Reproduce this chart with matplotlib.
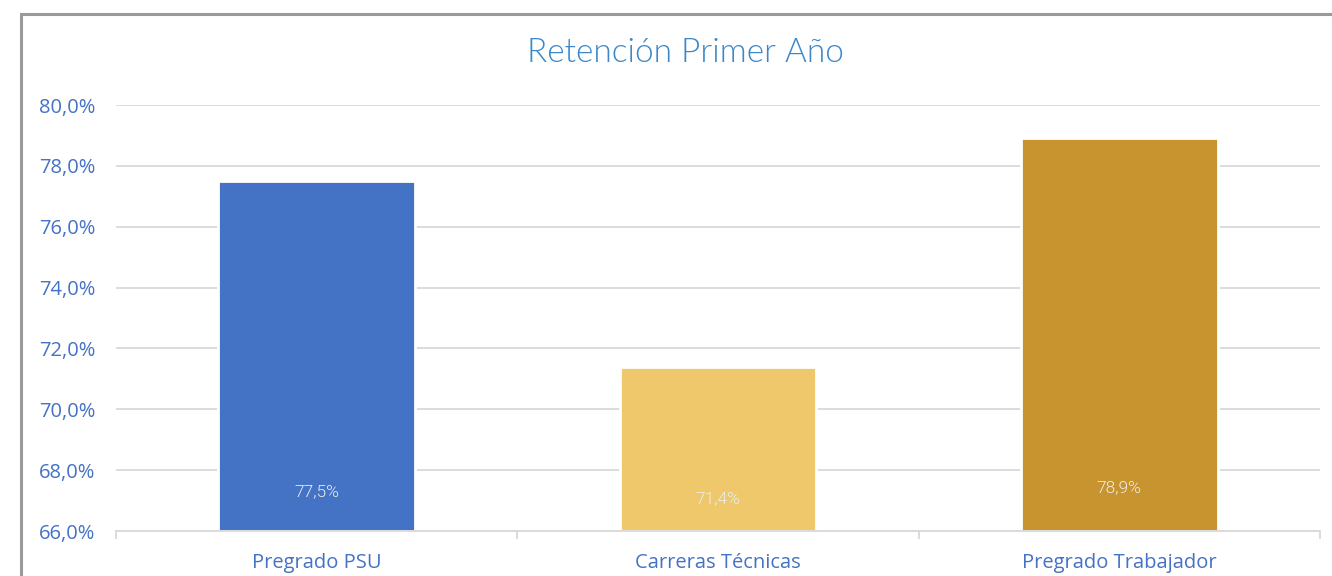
import matplotlib
matplotlib.use("Agg")
import matplotlib.pyplot as plt
from matplotlib.patches import Rectangle
from matplotlib.ticker import FuncFormatter, FixedLocator
from matplotlib.transforms import offset_copy

categories = ["Pregrado PSU", "Carreras Técnicas", "Pregrado Trabajador"]
values = [77.5, 71.4, 78.9]
title = "Retención Primer Año"
y_ticks = [66, 68, 70, 72, 74, 76, 78, 80]

bar_colors = ["#4472C4", "#EEC86B", "#C7942F"]
label_offsets_px = [39, 32, 43]  # label height above bar base, in pixels

fig = plt.figure(figsize=(13.32, 5.76), dpi=100)
fig.patch.set_facecolor("white")

# chart frame (cut off at right and bottom in the reference)
fig.patches.append(Rectangle((20.5 / 1332, -0.1), 1.2, 1 - 13.5 / 576 + 0.1,
                             transform=fig.transFigure, fill=False,
                             edgecolor="#9A9A9A", linewidth=2.2))

ax = fig.add_axes([116 / 1332, 1 - 531 / 576, (1320 - 116) / 1332, (531 - 105) / 576])
x = list(range(len(categories)))
bars = ax.bar(x, [v - 66 for v in values], bottom=66, width=0.49,
              color=bar_colors, edgecolor="white", linewidth=2, zorder=3)

ax.set_xlim(-0.5, 2.5)
ax.set_ylim(66, 80)
ax.set_yticks(y_ticks)
ax.yaxis.set_major_formatter(FuncFormatter(lambda v, p: f"{v:.1f}%".replace(".", ",")))
ax.grid(axis="y", color="#D9D9D9", linewidth=1.3, zorder=0)
ax.set_axisbelow(True)

for s in ["top", "right", "left"]:
    ax.spines[s].set_visible(False)
ax.spines["bottom"].set_color("#D9D9D9")
ax.spines["bottom"].set_linewidth(1.3)
ax.spines["bottom"].set_zorder(4)

ax.set_xticks(x)
ax.set_xticklabels(categories)
ax.xaxis.set_minor_locator(FixedLocator([-0.5, 0.5, 1.5, 2.5]))
ax.tick_params(axis="x", which="major", length=0, pad=16, labelsize=14.5, labelcolor="#4472C4")
ax.tick_params(axis="x", which="minor", length=6, width=1.3, color="#D9D9D9", direction="out")
ax.tick_params(axis="y", length=0, pad=15, labelsize=14.5, labelcolor="#4472C4")

for lab in ax.get_xticklabels() + ax.get_yticklabels():
    lab.set_family(["Open Sans", "DejaVu Sans"])

for xi, v, off in zip(x, values, label_offsets_px):
    tr = offset_copy(ax.transData, fig=fig, x=0, y=off, units="dots")
    ax.text(xi, 66, f"{v:.1f}%".replace(".", ","), transform=tr,
            ha="center", va="center", color="#EDEDED", fontsize=12.5,
            family=["Roboto", "DejaVu Sans"], fontweight=300,
            zorder=5)

fig.text(685 / 1332, 1 - 53 / 576, title, ha="center", va="center",
         fontsize=24, color="#3B87C9", family=["Lato", "DejaVu Sans"],
         fontweight=300)

fig.savefig("out.png", dpi=100, facecolor="white")
